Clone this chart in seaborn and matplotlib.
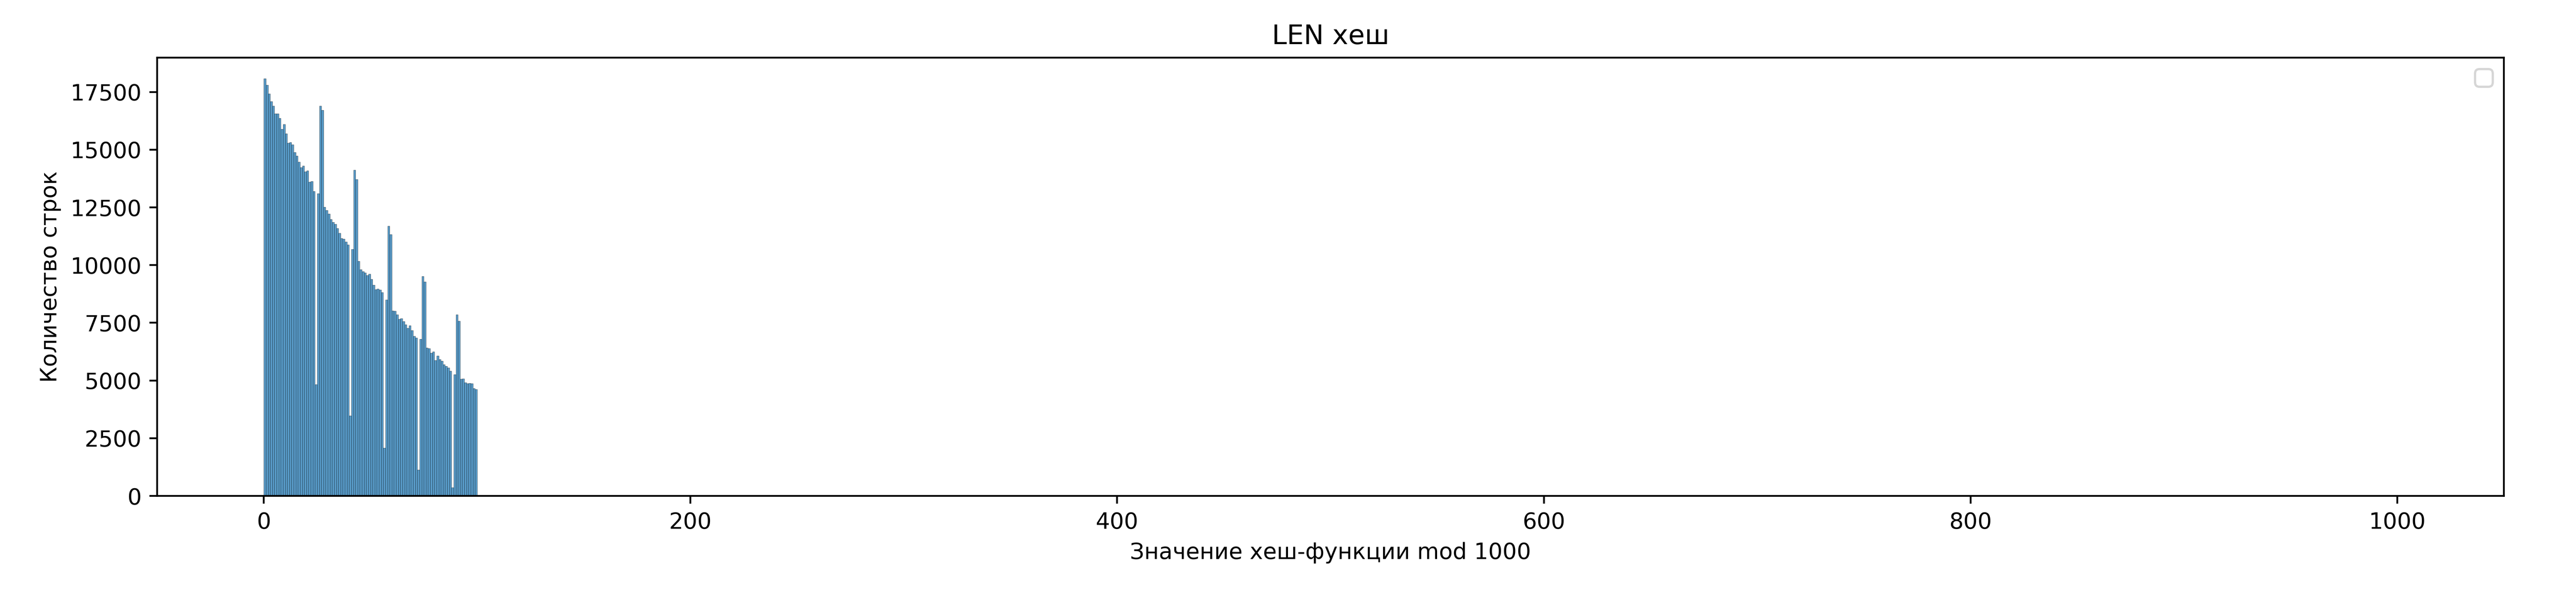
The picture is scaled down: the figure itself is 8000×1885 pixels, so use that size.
import numpy as np
import pandas as pd
import matplotlib
matplotlib.use("Agg")
import matplotlib.pyplot as plt
import seaborn as sns

# значения хеша (mod 1000) и количество строк
hash_values = list(range(100))
row_counts = [
    18084, 17798, 17424, 17088, 16902, 16566, 16566, 16366, 15894, 16105,
    15694, 15296, 15321, 15221, 14885, 14736, 14475, 14226, 14300, 14052,
    14089, 13603, 13628, 13193, 4829, 13106, 16902, 16715, 12521, 12371,
    12222, 11985, 11861, 11774, 11600, 11388, 11164, 11139, 11002, 10878,
    3472, 10691, 14126, 13715, 10168, 9807, 9720, 9671, 9559, 9608,
    9384, 9135, 8949, 8974, 8924, 8824, 2078, 8501, 11687, 11326,
    8028, 8003, 7853, 7667, 7692, 7567, 7430, 7268, 7380, 7169,
    6920, 6858, 1133, 6796, 9509, 9285, 6422, 6397, 6198, 6248,
    5875, 6074, 5912, 5850, 5700, 5626, 5551, 5414, 361, 5265,
    7853, 7580, 5066, 5078, 4916, 4866, 4879, 4866, 4667, 4618,
]

df = pd.DataFrame({"hash": hash_values, "count": row_counts})

fig, ax = plt.subplots(figsize=(16, 3.77), dpi=500)
sns.histplot(data=df, x="hash", weights="count", bins=1000, binrange=(0, 1000), ax=ax)
ax.set_title("LEN хеш")
ax.set_xlabel("Значение хеш-функции mod 1000")
ax.set_ylabel("Количество строк")
ax.legend(handles=[], loc="upper right")
fig.subplots_adjust(left=0.061, right=0.972, top=0.905, bottom=0.183)
fig.savefig("out.png", dpi=500)
